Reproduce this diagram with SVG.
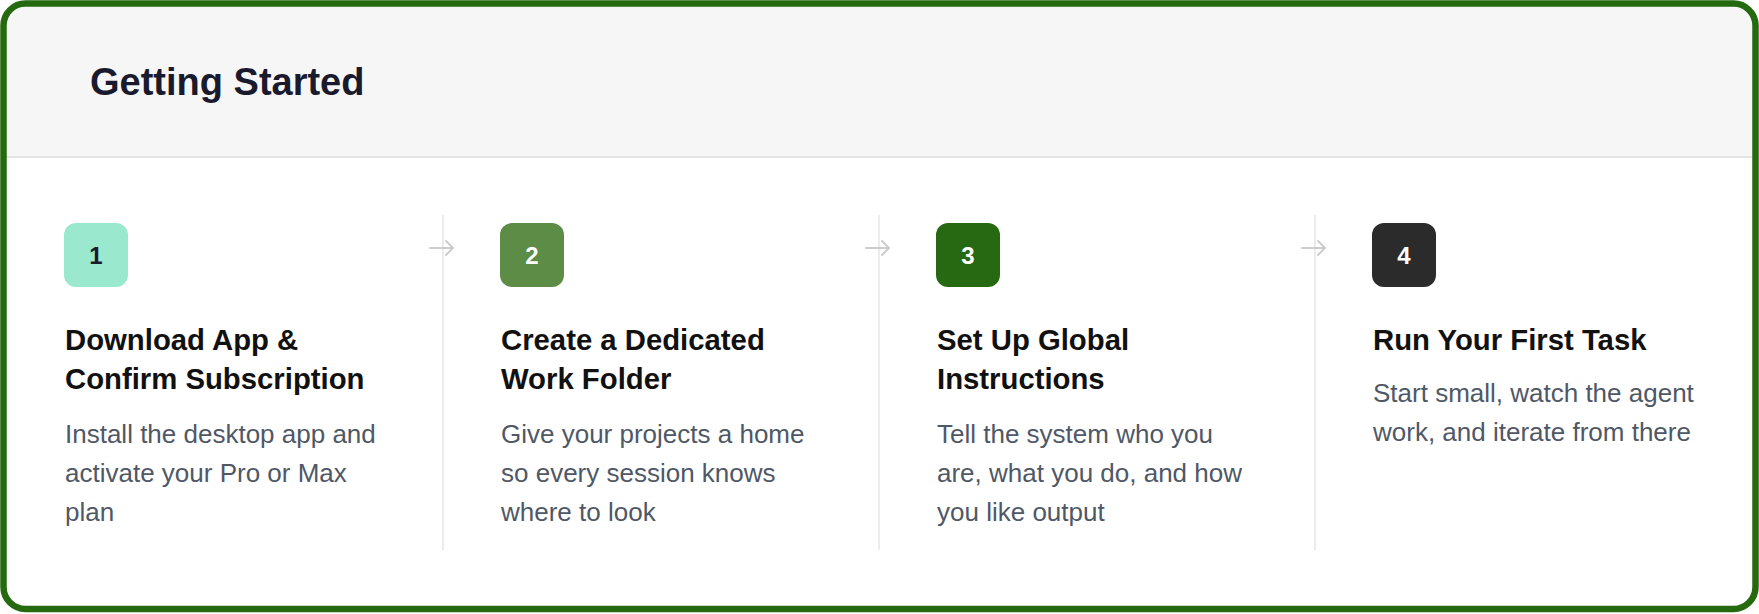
<svg xmlns="http://www.w3.org/2000/svg" width="1759" height="614" viewBox="0 0 1759 614">
<style>
.title{font-family:"Liberation Sans",Arial,sans-serif;font-weight:bold;font-size:38px;fill:#1a1a2e}
.head{font-family:"Liberation Sans",Arial,sans-serif;font-weight:bold;font-size:29.3px;fill:#111111}
.desc{font-family:"Liberation Sans",Arial,sans-serif;font-size:26px;fill:#4f5866}
.num{font-family:"Liberation Sans",Arial,sans-serif;font-weight:bold;font-size:24px;text-anchor:middle}
.sep{stroke:#e6e6e6;stroke-width:1.5}
.arr{stroke:#cccccc;stroke-width:2;fill:none;stroke-linecap:round;stroke-linejoin:round}
</style>
<defs>
<clipPath id="card"><rect x="3.5" y="3.5" width="1752" height="605.5" rx="22"/></clipPath>
</defs>
<rect width="1759" height="614" fill="#ffffff"/>
<g id="header" clip-path="url(#card)">
<rect x="0" y="0" width="1759" height="157" fill="#f6f6f6"/>
<line x1="0" y1="157" x2="1759" y2="157" stroke="#e4e4e4" stroke-width="2"/>
</g>
<text class="title" x="90" y="95">Getting Started</text>
<g id="connectors">
<line class="sep" x1="443" y1="215" x2="443" y2="550"/>
<line class="sep" x1="879" y1="215" x2="879" y2="550"/>
<line class="sep" x1="1315" y1="215" x2="1315" y2="550"/>
<path class="arr" d="M430 248 H453 M446 241 L453 248 L446 255"/>
<path class="arr" d="M866 248 H889 M882 241 L889 248 L882 255"/>
<path class="arr" d="M1302 248 H1325 M1318 241 L1325 248 L1318 255"/>
</g>
<g id="step1">
<rect x="64" y="223" width="64" height="64" rx="12" fill="#9ae8cd"/>
<text class="num" x="96" y="264" fill="#1a1a2e">1</text>
<text class="head" x="65" y="350">Download App &amp;</text>
<text class="head" x="65" y="389">Confirm Subscription</text>
<text class="desc" x="65" y="443">Install the desktop app and</text>
<text class="desc" x="65" y="482">activate your Pro or Max</text>
<text class="desc" x="65" y="521">plan</text>
</g>
<g id="step2">
<rect x="500" y="223" width="64" height="64" rx="12" fill="#5c8c46"/>
<text class="num" x="532" y="264" fill="#ffffff">2</text>
<text class="head" x="501" y="350">Create a Dedicated</text>
<text class="head" x="501" y="389">Work Folder</text>
<text class="desc" x="501" y="443">Give your projects a home</text>
<text class="desc" x="501" y="482">so every session knows</text>
<text class="desc" x="501" y="521">where to look</text>
</g>
<g id="step3">
<rect x="936" y="223" width="64" height="64" rx="12" fill="#266912"/>
<text class="num" x="968" y="264" fill="#ffffff">3</text>
<text class="head" x="937" y="350">Set Up Global</text>
<text class="head" x="937" y="389">Instructions</text>
<text class="desc" x="937" y="443">Tell the system who you</text>
<text class="desc" x="937" y="482">are, what you do, and how</text>
<text class="desc" x="937" y="521">you like output</text>
</g>
<g id="step4">
<rect x="1372" y="223" width="64" height="64" rx="12" fill="#2b2b2b"/>
<text class="num" x="1404" y="264" fill="#ffffff">4</text>
<text class="head" x="1373" y="350">Run Your First Task</text>
<text class="desc" x="1373" y="402">Start small, watch the agent</text>
<text class="desc" x="1373" y="441">work, and iterate from there</text>
</g>
<rect x="3.5" y="3.5" width="1752" height="605.5" rx="22" fill="none" stroke="#266a10" stroke-width="6.5"/>
</svg>
